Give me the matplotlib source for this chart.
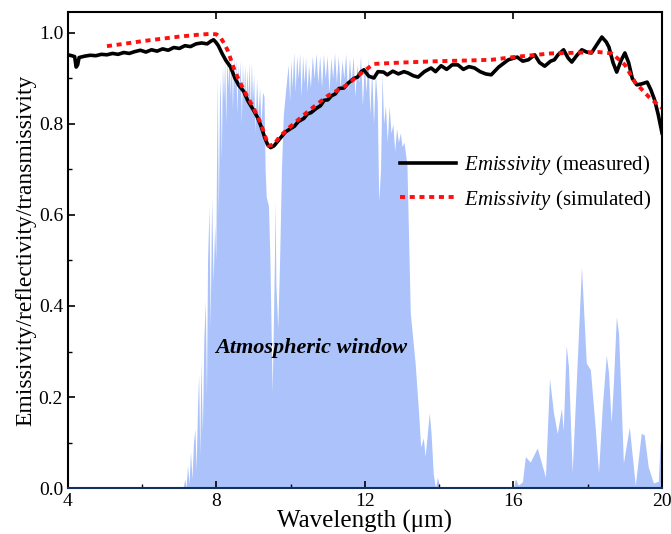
import numpy as np
import matplotlib
matplotlib.use('Agg')
import matplotlib.pyplot as plt
from matplotlib.ticker import MultipleLocator

plt.rcParams['font.family'] = 'Liberation Serif'
plt.rcParams['mathtext.fontset'] = 'custom'
plt.rcParams['mathtext.rm'] = 'Liberation Serif'
plt.rcParams['mathtext.it'] = 'Liberation Serif:italic'

# measured emissivity
wl_meas = [4.00, 4.10, 4.18, 4.22, 4.26, 4.30, 4.45, 4.6, 4.75, 4.9, 5.05, 5.2, 5.35, 5.5, 5.65,
           5.8, 5.95, 6.1, 6.25, 6.4, 6.55, 6.7, 6.85, 7.0, 7.15, 7.3, 7.45, 7.6, 7.75, 7.85,
           7.92, 7.98, 8.05, 8.15, 8.25, 8.38, 8.5, 8.6, 8.73, 8.85, 9.0, 9.1, 9.2, 9.3, 9.38,
           9.46, 9.55, 9.65, 9.73, 9.85, 10.0, 10.1, 10.2, 10.35, 10.45, 10.55, 10.7, 10.8, 10.9,
           11.0, 11.1, 11.2, 11.3, 11.43, 11.55, 11.7, 11.8, 11.9, 11.97, 12.1, 12.24, 12.35,
           12.5, 12.6, 12.75, 12.9, 13.05, 13.16, 13.3, 13.43, 13.6, 13.78, 13.9, 14.05, 14.2,
           14.35, 14.5, 14.65, 14.8, 14.95, 15.1, 15.25, 15.4, 15.6, 15.86, 16.1, 16.25, 16.4,
           16.57, 16.7, 16.84, 17.0, 17.1, 17.2, 17.35, 17.47, 17.57, 17.7, 17.84, 17.97, 18.1,
           18.25, 18.38, 18.5, 18.57, 18.68, 18.78, 18.9, 19.0, 19.1, 19.2, 19.32, 19.45, 19.6,
           19.7, 19.8, 19.9, 20.0]
em_meas = [0.952, 0.950, 0.948, 0.925, 0.930, 0.946, 0.949, 0.951, 0.950, 0.953, 0.952, 0.955,
           0.953, 0.957, 0.955, 0.959, 0.962, 0.958, 0.963, 0.960, 0.965, 0.962, 0.968, 0.966,
           0.972, 0.970, 0.976, 0.978, 0.976, 0.982, 0.985, 0.980, 0.972, 0.955, 0.940, 0.925,
           0.900, 0.885, 0.872, 0.850, 0.830, 0.815, 0.795, 0.770, 0.754, 0.748, 0.752, 0.762,
           0.770, 0.782, 0.790, 0.795, 0.805, 0.812, 0.822, 0.825, 0.835, 0.840, 0.852, 0.853,
           0.862, 0.866, 0.878, 0.879, 0.890, 0.900, 0.903, 0.915, 0.919, 0.905, 0.901, 0.915,
           0.914, 0.908, 0.916, 0.910, 0.915, 0.912, 0.906, 0.903, 0.915, 0.923, 0.915, 0.928,
           0.920, 0.930, 0.930, 0.920, 0.926, 0.923, 0.915, 0.910, 0.908, 0.925, 0.941, 0.947,
           0.938, 0.941, 0.952, 0.935, 0.927, 0.938, 0.941, 0.952, 0.963, 0.945, 0.936, 0.950,
           0.963, 0.958, 0.956, 0.975, 0.991, 0.980, 0.969, 0.935, 0.914, 0.940, 0.956, 0.935,
           0.900, 0.886, 0.888, 0.892, 0.875, 0.853, 0.820, 0.780]

# simulated emissivity
wl_sim = [5.05, 5.5, 6.0, 6.5, 7.0, 7.5, 7.84, 8.0, 8.1, 8.2, 8.3, 8.5, 8.73, 9.0, 9.2, 9.4,
          9.55, 9.7, 10.0, 10.5, 11.0, 11.5, 11.8, 12.0, 12.24, 13.0, 14.0, 15.0, 15.4, 16.0,
          17.0, 18.3, 18.65, 19.0, 19.27, 19.65, 20.0]
em_sim = [0.971, 0.976, 0.982, 0.987, 0.992, 0.996, 0.998, 0.997, 0.991, 0.978, 0.962, 0.915,
          0.875, 0.835, 0.800, 0.752, 0.755, 0.772, 0.795, 0.830, 0.862, 0.885, 0.905, 0.918,
          0.932, 0.935, 0.938, 0.940, 0.941, 0.947, 0.955, 0.958, 0.955, 0.930, 0.892, 0.859,
          0.835]

# atmospheric transmittance
wl_atm = [4.0, 7.10, 7.15, 7.18, 7.22, 7.26, 7.30, 7.34, 7.38, 7.42, 7.45, 7.49, 7.52, 7.55,
          7.58, 7.62, 7.66, 7.70, 7.73, 7.76, 7.80, 7.83, 7.87, 7.91, 7.95, 7.98, 8.02, 8.05,
          8.08, 8.10, 8.13, 8.16, 8.19, 8.22, 8.25, 8.28, 8.31, 8.34, 8.37, 8.40, 8.43, 8.46,
          8.49, 8.52, 8.55, 8.58, 8.61, 8.64, 8.67, 8.70, 8.73, 8.76, 8.79, 8.82, 8.85, 8.88,
          8.91, 8.94, 8.97, 9.00, 9.04, 9.08, 9.12, 9.16, 9.20, 9.24, 9.28, 9.31, 9.34, 9.40,
          9.44, 9.47, 9.50, 9.53, 9.56, 9.58, 9.60, 9.65, 9.70, 9.75, 9.80, 9.87, 9.93, 9.97,
          10.00, 10.04, 10.08, 10.12, 10.16, 10.20, 10.24, 10.28, 10.32, 10.36, 10.40, 10.44,
          10.48, 10.53, 10.58, 10.63, 10.68, 10.73, 10.78, 10.83, 10.88, 10.93, 10.98, 11.03,
          11.08, 11.13, 11.18, 11.23, 11.28, 11.33, 11.38, 11.43, 11.48, 11.53, 11.58, 11.63,
          11.68, 11.73, 11.78, 11.83, 11.88, 11.93, 11.98, 12.03, 12.08, 12.13, 12.18, 12.23,
          12.28, 12.33, 12.37, 12.42, 12.46, 12.50, 12.55, 12.60, 12.65, 12.70, 12.75, 12.80,
          12.85, 12.90, 12.95, 13.00, 13.05, 13.13, 13.22, 13.35, 13.44, 13.50, 13.57, 13.62,
          13.68, 13.73, 13.78, 13.84, 13.90, 13.95, 14.02, 16.00, 16.05, 16.13, 16.24, 16.32,
          16.45, 16.64, 16.86, 16.97, 17.08, 17.18, 17.29, 17.34, 17.42, 17.48, 17.58, 17.67,
          17.83, 17.96, 18.07, 18.20, 18.29, 18.39, 18.50, 18.56, 18.63, 18.69, 18.77, 18.83,
          18.96, 19.12, 19.28, 19.44, 19.52, 19.63, 19.77, 19.90, 19.95, 20.0]
tr_atm = [0.0, 0.0, 0.02, 0.0, 0.05, 0.01, 0.08, 0.02, 0.10, 0.13, 0.04, 0.18, 0.25, 0.07,
          0.28, 0.12, 0.33, 0.41, 0.20, 0.50, 0.62, 0.35, 0.64, 0.45, 0.58, 0.50, 0.90, 0.60,
          0.85, 0.90, 0.72, 0.93, 0.85, 0.94, 0.80, 0.95, 0.88, 0.955, 0.86, 0.956, 0.83, 0.95,
          0.88, 0.945, 0.82, 0.934, 0.87, 0.94, 0.80, 0.935, 0.86, 0.93, 0.84, 0.92, 0.86,
          0.935, 0.83, 0.936, 0.85, 0.91, 0.78, 0.90, 0.82, 0.88, 0.80, 0.87, 0.86, 0.70, 0.64,
          0.62, 0.50, 0.35, 0.21, 0.35, 0.50, 0.63, 0.45, 0.35, 0.50, 0.70, 0.82, 0.88, 0.93,
          0.85, 0.94, 0.88, 0.958, 0.87, 0.95, 0.90, 0.956, 0.86, 0.95, 0.89, 0.947, 0.87, 0.93,
          0.88, 0.95, 0.90, 0.956, 0.89, 0.95, 0.88, 0.954, 0.90, 0.95, 0.87, 0.945, 0.90, 0.956,
          0.89, 0.95, 0.88, 0.94, 0.90, 0.955, 0.87, 0.945, 0.89, 0.95, 0.86, 0.93, 0.89, 0.95,
          0.84, 0.93, 0.87, 0.945, 0.82, 0.92, 0.80, 0.91, 0.85, 0.63, 0.70, 0.91, 0.80, 0.84,
          0.76, 0.84, 0.78, 0.80, 0.74, 0.79, 0.76, 0.78, 0.75, 0.76, 0.71, 0.385, 0.275, 0.17,
          0.09, 0.11, 0.07, 0.12, 0.165, 0.12, 0.03, 0.0, 0.024, 0.0, 0.0, 0.02, 0.006, 0.014,
          0.069, 0.057, 0.088, 0.024, 0.24, 0.164, 0.12, 0.175, 0.127, 0.314, 0.267, 0.035,
          0.193, 0.486, 0.275, 0.26, 0.134, 0.033, 0.178, 0.292, 0.253, 0.143, 0.23, 0.376,
          0.34, 0.055, 0.134, 0.006, 0.12, 0.117, 0.046, 0.011, 0.015, 0.10, 0.10]

fig = plt.figure(figsize=(6.71, 5.34), dpi=100)
ax = fig.add_axes([0.1013, 0.0861, 0.8853, 0.8914])

ax.fill_between(wl_atm, 0, tr_atm, color='#abc2fa', lw=0)
ax.plot(wl_meas, em_meas, color='black', lw=2.6, solid_joinstyle='round',
        label=r'$\it{Emissivity}$ (measured)')
ax.plot(wl_sim, em_sim, color='#ff1010', lw=2.8, linestyle=(0, (1.3, 1.2)),
        label=r'$\it{Emissivity}$ (simulated)')

ax.text(7.96, 0.308, 'Atmospheric window', fontsize=16, fontweight='bold',
        fontstyle='italic', va='center', ha='left')

ax.set_xlim(4, 20)
ax.set_ylim(0, 1.046)
ax.xaxis.set_major_locator(MultipleLocator(4))
ax.xaxis.set_minor_locator(MultipleLocator(2))
ax.yaxis.set_major_locator(MultipleLocator(0.2))
ax.yaxis.set_minor_locator(MultipleLocator(0.1))
ax.yaxis.set_major_formatter(plt.FormatStrFormatter('%.1f'))
ax.tick_params(which='both', direction='in', top=True, right=False, labelsize=14)
ax.tick_params(which='major', length=5, width=1.2)
ax.tick_params(which='minor', length=3, width=1.0)
ax.tick_params(axis='x', which='minor', top=False)
for s in ax.spines.values():
    s.set_linewidth(1.5)
ax.spines['bottom'].set_color('#13305e')

ax.set_xlabel('Wavelength (\u03bcm)', fontsize=18, labelpad=0)
ax.set_ylabel('Emissivity/reflectivity/transmissivity', fontsize=17, labelpad=2)

ax.legend(loc='center right', bbox_to_anchor=(1.0, 0.642), frameon=False, fontsize=15,
          handlelength=2.7, handletextpad=0.4, borderaxespad=0.1, labelspacing=0.5)

fig.savefig('out.png', dpi=100)
